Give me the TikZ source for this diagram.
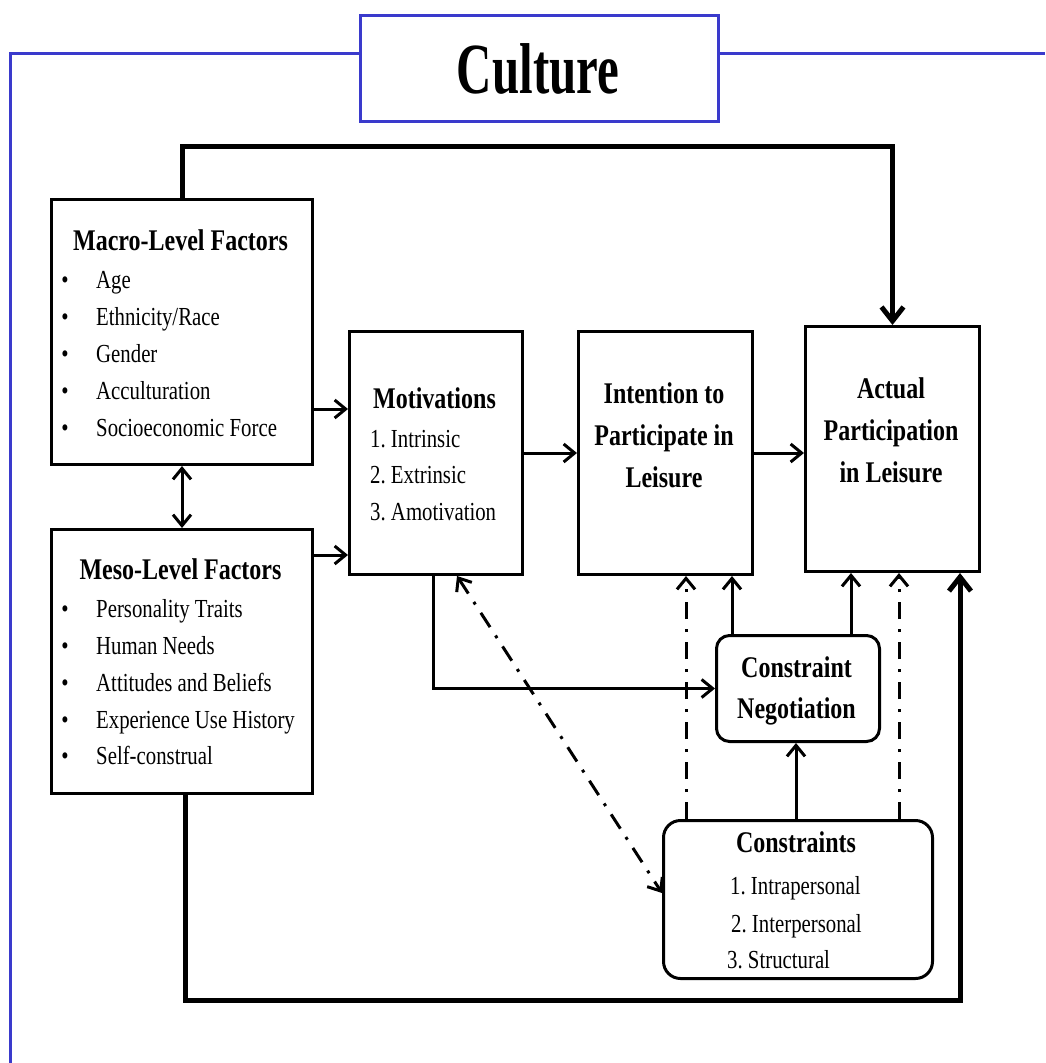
\documentclass[tikz,border=0pt]{standalone}
\usepackage{fontspec}
\setmainfont{Liberation Serif}[FakeStretch=0.8]
\newfontfamily\culfont{Liberation Serif}[FakeStretch=0.68]
\usetikzlibrary{arrows.meta,calc}
\definecolor{culblue}{RGB}{58,58,204}
\frenchspacing
\begin{document}
\begin{tikzpicture}[x=1pt,y=-1pt,
  box/.style={draw, line width=3pt, inner sep=0pt, anchor=north west},
  rbox/.style={box, rounded corners=#1},
  ttl/.style={font=\fontsize{30}{36}\selectfont\bfseries, anchor=base, inner sep=0pt},
  itm/.style={font=\fontsize{26}{31}\selectfont, anchor=base west, inner sep=0pt},
  bul/.style={font=\fontsize{26}{31}\selectfont, anchor=base, inner sep=0pt},
  tip/.style={Straight Barb[length=11pt,width=18pt]},
  conn/.style={line width=3pt, -{Straight Barb[length=11pt,width=18pt]}},
  bigconn/.style={line width=5pt, -{Straight Barb[length=14pt,width=22pt]}},
  dashdot/.style={line width=3pt, dash pattern=on 17pt off 10pt on 3pt off 10pt},
  dconn/.style={dashdot, -{Straight Barb[length=11pt,width=18pt]}},
  ddconn/.style={dashdot, {Straight Barb[length=11pt,width=18pt]}-{Straight Barb[length=11pt,width=18pt]}}
]
\useasboundingbox (0,0) rectangle (1045,1063);
\fill[white] (0,0) rectangle (1045,1063);

% Culture frame
\node[box, draw=culblue, minimum width=358pt, minimum height=106pt] (cul) at (359,14) {};
\node[font=\culfont\fontsize{72}{80}\selectfont\bfseries, anchor=base, inner sep=0pt] (cult) at (538,93) {Culture};
\coordinate (bl) at (10,53);
\coordinate (bb) at (10,1063);
\coordinate (br) at (1045,53);
\draw[culblue, line width=3pt] (cul.west |- bl) -- (bl) -- (bb);
\draw[culblue, line width=3pt] (cul.east |- br) -- (br);

% Boxes
\node[box, minimum width=261pt, minimum height=265pt] (mac) at (50,198) {};
\node[box, minimum width=261pt, minimum height=264pt] (mes) at (50,528) {};
\node[box, minimum width=173pt, minimum height=243pt] (mot) at (348,330) {};
\node[box, minimum width=174pt, minimum height=243pt] (int) at (577,330) {};
\node[box, minimum width=174pt, minimum height=245pt] (act) at (804,325) {};
\node[rbox=13pt, minimum width=163pt, minimum height=106pt] (cn) at (715,634) {};
\node[rbox=17pt, minimum width=269pt, minimum height=158pt] (con) at (662,819) {};

% Macro text
\node[ttl] (macT) at (180.5,250) {Macro-Level Factors};
\node[bul] (macb1) at (65,288) {•}; \node[itm] (maci1) at (96,288) {Age};
\node[bul] (macb2) at (65,325) {•}; \node[itm] (maci2) at (96,325) {Ethnicity/Race};
\node[bul] (macb3) at (65,362) {•}; \node[itm] (maci3) at (96,362) {Gender};
\node[bul] (macb4) at (65,399) {•}; \node[itm] (maci4) at (96,399) {Acculturation};
\node[bul] (macb5) at (65,436) {•}; \node[itm] (maci5) at (96,436) {Socioeconomic Force};

% Meso text
\node[ttl] (mesT) at (180.5,579) {Meso-Level Factors};
\node[bul] (mesb1) at (65,617) {•}; \node[itm] (mesi1) at (96,617) {Personality Traits};
\node[bul] (mesb2) at (65,654) {•}; \node[itm] (mesi2) at (96,654) {Human Needs};
\node[bul] (mesb3) at (65,691) {•}; \node[itm] (mesi3) at (96,691) {Attitudes and Beliefs};
\node[bul] (mesb4) at (65,728) {•}; \node[itm] (mesi4) at (96,728) {Experience Use History};
\node[bul] (mesb5) at (65,764) {•}; \node[itm] (mesi5) at (96,764) {Self-construal};

% Motivations text
\node[ttl] (motT) at (434.5,408) {Motivations};
\node[itm] (moti1) at (370,447) {1. Intrinsic};
\node[itm] (moti2) at (370,483) {2. Extrinsic};
\node[itm] (moti3) at (370,520) {3. Amotivation};

% Intention text
\node[ttl] (intT1) at (664,403) {Intention to};
\node[ttl] (intT2) at (664,445) {Participate in};
\node[ttl] (intT3) at (664,487) {Leisure};

% Actual text
\node[ttl] (actT1) at (891,398) {Actual};
\node[ttl] (actT2) at (891,440) {Participation};
\node[ttl] (actT3) at (891,482) {in Leisure};

% Constraint negotiation text
\node[ttl] (cnT1) at (796.5,677) {Constraint};
\node[ttl] (cnT2) at (796.5,718) {Negotiation};

% Constraints text
\node[ttl] (conT) at (796,852) {Constraints};
\node[itm] (coni1) at (730,894) {1. Intrapersonal};
\node[itm] (coni2) at (731,932) {2. Interpersonal};
\node[itm] (coni3) at (727,968) {3. Structural};

% Connectors
\coordinate (tp) at (0,146);
\draw[bigconn] (mac.north) -- (mac.north |- tp) -| (act.north);
\coordinate (bx) at (185,1000);
\coordinate (rx) at (960,0);
\draw[bigconn] (mes.south -| bx) -- (bx) -| (act.south -| rx);

\coordinate (y1) at (0,409);
\coordinate (y2) at (0,555);
\coordinate (y3) at (0,453);
\draw[conn] (mac.east |- y1) -- (mot.west |- y1);
\draw[conn] (mes.east |- y2) -- (mot.west |- y2);
\draw[line width=3pt, {Straight Barb[length=11pt,width=18pt]}-{Straight Barb[length=11pt,width=18pt]}] (mac.south) -- (mes.north);
\draw[conn] (mot.east |- y3) -- (int.west |- y3);
\draw[conn] (int.east |- y3) -- (act.west |- y3);

\coordinate (x1) at (433,0);
\draw[conn] (mot.south -| x1) |- (cn.west);
\coordinate (x2) at (732,0);
\draw[conn] (cn.north -| x2) -- (int.south -| x2);
\coordinate (x3) at (851,0);
\draw[conn] (cn.north -| x3) -- (act.south -| x3);
\coordinate (x4) at (796,0);
\draw[conn] (con.north -| x4) -- (cn.south -| x4);
\coordinate (x5) at (686,0);
\draw[dconn] (con.north -| x5) -- (int.south -| x5);
\coordinate (x6) at (899,0);
\draw[dconn] (con.north -| x6) -- (act.south -| x6);
\coordinate (x7) at (457,0);
\coordinate (y7) at (0,893);
\draw[ddconn] (mot.south -| x7) -- (con.west |- y7);
\end{tikzpicture}
\end{document}
